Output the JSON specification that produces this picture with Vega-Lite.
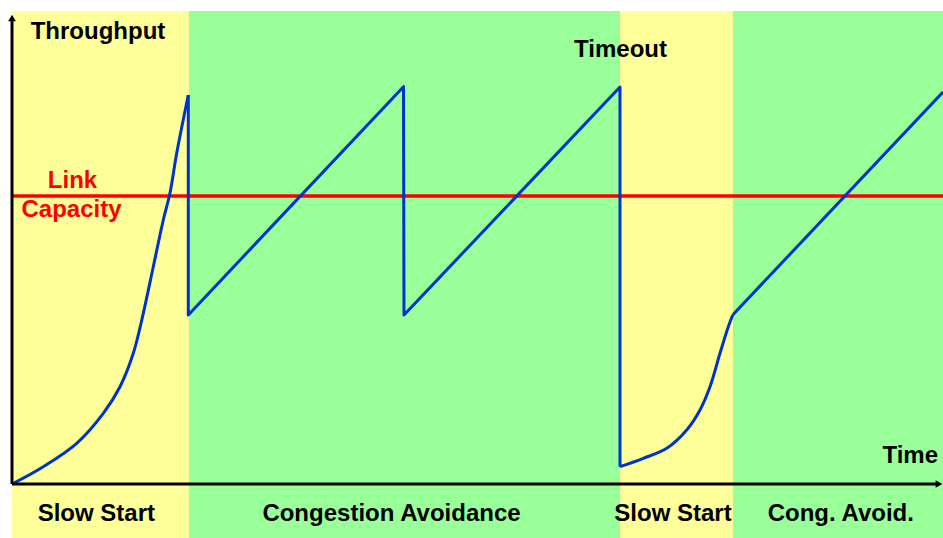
{
  "$schema": "https://vega.github.io/schema/vega-lite/v6.json",
  "width": 943,
  "height": 538,
  "autosize": {"type": "none"},
  "padding": 0,
  "background": "white",
  "config": {"view": {"stroke": null}},
  "datasets": {
    "bands": [
      {"start": 0, "end": 177, "phase": "slow"},
      {"start": 177, "end": 608, "phase": "avoid"},
      {"start": 608, "end": 721, "phase": "slow"},
      {"start": 721, "end": 931, "phase": "avoid"}
    ],
    "curve": [
      {"i": 0, "seg": "ss1", "time": 0, "throughput": 0},
      {"i": 1, "seg": "ss1", "time": 31.3, "throughput": 17.3},
      {"i": 2, "seg": "ss1", "time": 64.7, "throughput": 40.7},
      {"i": 3, "seg": "ss1", "time": 91.3, "throughput": 70.7},
      {"i": 4, "seg": "ss1", "time": 108, "throughput": 97.3},
      {"i": 5, "seg": "ss1", "time": 121.3, "throughput": 130.7},
      {"i": 6, "seg": "ss1", "time": 131.3, "throughput": 170.7},
      {"i": 7, "seg": "ss1", "time": 141.3, "throughput": 217.3},
      {"i": 8, "seg": "ss1", "time": 151.3, "throughput": 264},
      {"i": 9, "seg": "ss1", "time": 158, "throughput": 291},
      {"i": 10, "seg": "ss1", "time": 164.7, "throughput": 330.7},
      {"i": 11, "seg": "ss1", "time": 176.3, "throughput": 389},
      {"i": 12, "seg": "ca1", "time": 176.3, "throughput": 389},
      {"i": 13, "seg": "ca1", "time": 176.3, "throughput": 169},
      {"i": 14, "seg": "ca1", "time": 391.5, "throughput": 397.3},
      {"i": 15, "seg": "ca1", "time": 392, "throughput": 169},
      {"i": 16, "seg": "ca1", "time": 608, "throughput": 397},
      {"i": 17, "seg": "ca1", "time": 608, "throughput": 17.3},
      {"i": 18, "seg": "ss2", "time": 608, "throughput": 17.3},
      {"i": 19, "seg": "ss2", "time": 631.3, "throughput": 25.7},
      {"i": 20, "seg": "ss2", "time": 654.7, "throughput": 35.7},
      {"i": 21, "seg": "ss2", "time": 674.7, "throughput": 54},
      {"i": 22, "seg": "ss2", "time": 688, "throughput": 74},
      {"i": 23, "seg": "ss2", "time": 698, "throughput": 97.3},
      {"i": 24, "seg": "ss2", "time": 708, "throughput": 130.7},
      {"i": 25, "seg": "ss2", "time": 716.3, "throughput": 157.3},
      {"i": 26, "seg": "ss2", "time": 720.7, "throughput": 169},
      {"i": 27, "seg": "ca2", "time": 720.7, "throughput": 169},
      {"i": 28, "seg": "ca2", "time": 931, "throughput": 392}
    ],
    "labels": [
      {"text": "Throughput", "time": 18.7, "throughput": 444.7, "color": "black", "align": "left"},
      {"text": "Timeout", "time": 608.5, "throughput": 426.7, "color": "black", "align": "center"},
      {"text": "Link", "time": 60.5, "throughput": 296, "color": "red", "align": "center"},
      {"text": "Capacity", "time": 59.5, "throughput": 267.5, "color": "red", "align": "center"},
      {"text": "Slow Start", "time": 84.3, "throughput": -37, "color": "black", "align": "center"},
      {"text": "Congestion Avoidance", "time": 379.5, "throughput": -37, "color": "black", "align": "center"},
      {"text": "Slow Start", "time": 661, "throughput": -37, "color": "black", "align": "center"},
      {"text": "Cong. Avoid.", "time": 828.8, "throughput": -37, "color": "black", "align": "center"}
    ]
  },
  "layer": [
    {
      "data": {"name": "bands"},
      "mark": {"type": "rect"},
      "encoding": {
        "x": {"field": "start", "type": "quantitative", "scale": {"domain": [-12, 931], "nice": false, "zero": false}, "axis": null},
        "x2": {"field": "end"},
        "y": {"datum": 473, "type": "quantitative", "scale": {"domain": [-54, 484], "nice": false, "zero": false}, "axis": null},
        "y2": {"datum": -54},
        "color": {"field": "phase", "type": "nominal", "scale": {"domain": ["slow", "avoid"], "range": ["#FFFF99", "#99FF99"]}, "legend": null}
      }
    },
    {
      "data": {"values": [{"capacity": 288}]},
      "mark": {"type": "rule", "color": "#FF0000", "strokeWidth": 3.5},
      "encoding": {
        "y": {"field": "capacity", "type": "quantitative"},
        "x": {"datum": 0, "type": "quantitative"},
        "x2": {"datum": 931}
      }
    },
    {
      "data": {"name": "curve"},
      "transform": [{"filter": "datum.seg == 'ss1' || datum.seg == 'ss2'"}],
      "mark": {"type": "line", "color": "#0033CC", "strokeWidth": 3, "interpolate": "catmull-rom"},
      "encoding": {
        "x": {"field": "time", "type": "quantitative"},
        "y": {"field": "throughput", "type": "quantitative"},
        "detail": {"field": "seg", "type": "nominal"},
        "order": {"field": "i", "type": "quantitative"}
      }
    },
    {
      "data": {"name": "curve"},
      "transform": [{"filter": "datum.seg == 'ca1' || datum.seg == 'ca2'"}],
      "mark": {"type": "line", "color": "#0033CC", "strokeWidth": 3, "strokeJoin": "round"},
      "encoding": {
        "x": {"field": "time", "type": "quantitative"},
        "y": {"field": "throughput", "type": "quantitative"},
        "detail": {"field": "seg", "type": "nominal"},
        "order": {"field": "i", "type": "quantitative"}
      }
    },
    {
      "data": {"values": [{"a": 0}]},
      "mark": {"type": "rule", "color": "black", "strokeWidth": 3},
      "encoding": {
        "x": {"datum": 0, "type": "quantitative"},
        "y": {"datum": 0, "type": "quantitative"},
        "y2": {"datum": 466}
      }
    },
    {
      "data": {"values": [{"a": 0}]},
      "mark": {"type": "rule", "color": "black", "strokeWidth": 3},
      "encoding": {
        "y": {"datum": 0, "type": "quantitative"},
        "x": {"datum": 0, "type": "quantitative"},
        "x2": {"datum": 926}
      }
    },
    {
      "data": {"values": [{"time": 0, "throughput": 466}]},
      "mark": {"type": "point", "shape": "triangle-up", "filled": true, "color": "black", "size": 60, "opacity": 1},
      "encoding": {
        "x": {"field": "time", "type": "quantitative"},
        "y": {"field": "throughput", "type": "quantitative"}
      }
    },
    {
      "data": {"values": [{"time": 927, "throughput": 0}]},
      "mark": {"type": "point", "shape": "triangle-right", "filled": true, "color": "black", "size": 60, "opacity": 1},
      "encoding": {
        "x": {"field": "time", "type": "quantitative"},
        "y": {"field": "throughput", "type": "quantitative"}
      }
    },
    {
      "data": {"name": "labels"},
      "transform": [{"filter": "datum.align == 'center'"}],
      "mark": {"type": "text", "font": "Liberation Sans", "fontWeight": "bold", "fontSize": 24, "align": "center", "baseline": "alphabetic"},
      "encoding": {
        "x": {"field": "time", "type": "quantitative"},
        "y": {"field": "throughput", "type": "quantitative"},
        "text": {"field": "text"},
        "color": {"field": "color", "type": "nominal", "scale": null}
      }
    },
    {
      "data": {"name": "labels"},
      "transform": [{"filter": "datum.align == 'left'"}],
      "mark": {"type": "text", "font": "Liberation Sans", "fontWeight": "bold", "fontSize": 24, "align": "left", "baseline": "alphabetic"},
      "encoding": {
        "x": {"field": "time", "type": "quantitative"},
        "y": {"field": "throughput", "type": "quantitative"},
        "text": {"field": "text"},
        "color": {"field": "color", "type": "nominal", "scale": null}
      }
    },
    {
      "data": {"values": [{"text": "Time", "time": 926, "throughput": 21.3}]},
      "mark": {"type": "text", "font": "Liberation Sans", "fontWeight": "bold", "fontSize": 24, "align": "right", "baseline": "alphabetic", "color": "black"},
      "encoding": {
        "x": {"field": "time", "type": "quantitative"},
        "y": {"field": "throughput", "type": "quantitative"},
        "text": {"field": "text"}
      }
    }
  ]
}
